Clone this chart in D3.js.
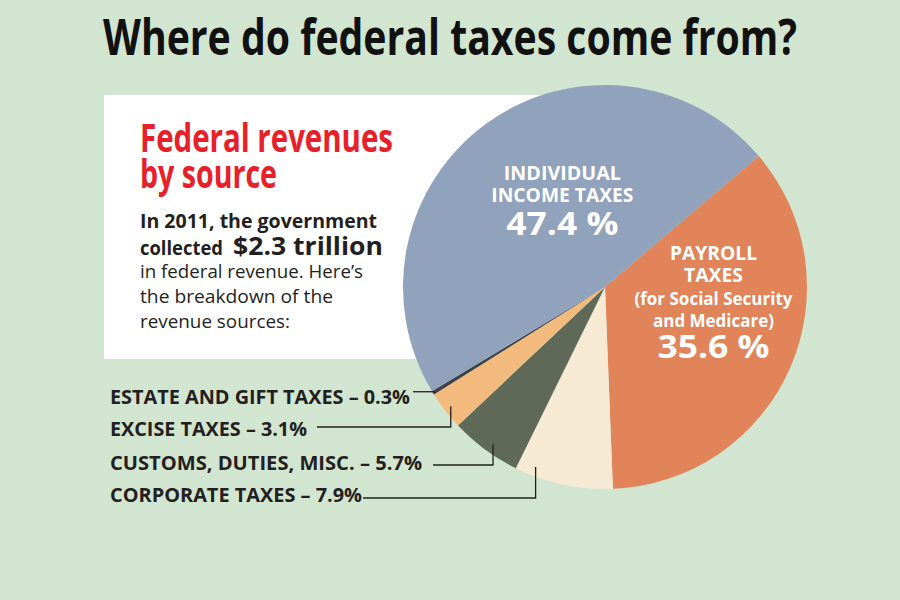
<!doctype html>
<html>
<head>
<meta charset="utf-8"/>
<title>Where do federal taxes come from?</title>
<script src="https://d3js.org/d3.v7.min.js"></script>
<style>
body{margin:0;background:#d2e5d0;}
svg{display:block;}
</style>
</head>
<body>
<script>
// data (2011 federal revenue shares, percent)
var sources = ["Payroll taxes", "Corporate taxes", "Customs, duties, misc.", "Excise taxes", "Estate and gift taxes", "Individual income taxes"];
var shares = [35.6, 7.9, 5.7, 3.1, 0.3, 47.4];
var colors = ["#e1845a", "#f6ead4", "#5e6a57", "#f2bb7d", "#3e414a", "#91a2bc"];
var calloutNames = ["ESTATE AND GIFT TAXES", "EXCISE TAXES", "CUSTOMS, DUTIES, MISC.", "CORPORATE TAXES"];
var calloutIdx = [4, 3, 2, 1];

var W = 900, H = 600;
var cx = 605, cy = 287, R = 202;
var startDeg = 49.6;
var bold = "'Liberation Sans Narrow','Open Sans',sans-serif";
var humanist = "'Open Sans','Noto Sans',sans-serif";

var svg = d3.select("body").append("svg")
  .attr("width", W)
  .attr("height", H);

svg.append("rect")
  .attr("width", W).attr("height", H)
  .attr("fill", "#d2e5d0");

// title
svg.append("text")
  .attr("x", 103).attr("y", 55)
  .attr("font-family", bold)
  .attr("font-weight", "bold")
  .attr("font-size", 50)
  .attr("fill", "#111")
  .attr("textLength", 694)
  .attr("lengthAdjust", "spacingAndGlyphs")
  .text("Where do federal taxes come from?");

// white intro box
svg.append("rect")
  .attr("x", 104).attr("y", 95)
  .attr("width", 500).attr("height", 264)
  .attr("fill", "#fff");

function line(x, y, size, weight, fill, len, txt, fam) {
  svg.append("text")
    .attr("x", x).attr("y", y)
    .attr("font-family", fam || humanist)
    .attr("font-size", size)
    .attr("font-weight", weight)
    .attr("fill", fill)
    .attr("textLength", len)
    .attr("lengthAdjust", "spacingAndGlyphs")
    .text(txt);
}

line(140, 152, 40, "bold", "#e8202a", 253, "Federal revenues", bold);
line(140, 188, 40, "bold", "#e8202a", 137, "by source", bold);
line(140, 228, 19, "bold", "#231f20", 237, "In 2011, the government");
line(140, 255, 19, "bold", "#231f20", 83, "collected");
line(233, 255, 25, "bold", "#231f20", 150, "$2.3 trillion");
line(140, 278, 19, "normal", "#231f20", 223, "in federal revenue. Here\u2019s");
line(140, 303, 19, "normal", "#231f20", 193, "the breakdown of the");
line(140, 328, 19, "normal", "#231f20", 150, "revenue sources:");

// pie
var a0 = startDeg * Math.PI / 180;
var pie = d3.pie().sort(null).value(function(d){ return d; })
  .startAngle(a0).endAngle(a0 + 2 * Math.PI);
var arcs = pie(shares);
var arc = d3.arc().innerRadius(0).outerRadius(R);

var g = svg.append("g").attr("transform", "translate(" + cx + "," + cy + ")");
g.selectAll("path")
  .data(arcs)
  .enter()
  .append("path")
  .attr("d", arc)
  .attr("fill", function(d,i){ return colors[i]; });

// labels inside the big slices
function inner(angleDeg, rad, rows) {
  var p = d3.pointRadial(angleDeg * Math.PI / 180, rad);
  rows.forEach(function(r){
    g.append("text")
      .attr("x", p[0]).attr("y", p[1] + r[0])
      .attr("text-anchor", "middle")
      .attr("font-family", humanist)
      .attr("font-weight", "bold")
      .attr("font-size", r[1])
      .attr("fill", "#fff")
      .attr("textLength", r[2])
      .attr("lengthAdjust", "spacingAndGlyphs")
      .text(r[3]);
  });
}
inner(331, 88, [
  [-30, 20, 117, "INDIVIDUAL"],
  [-8, 20, 142, "INCOME TAXES"],
  [25, 33, 112, shares[5] + " %"]
]);
inner(99.5, 110, [
  [-45, 19, 87, "PAYROLL"],
  [-23, 19, 59, "TAXES"],
  [0, 18, 158, "(for Social Security"],
  [22, 18, 121, "and Medicare)"],
  [53, 33, 112, shares[0] + " %"]
]);

// callouts for the small slices
var baseY = [404, 436, 470, 502];
var leadY = [393, 427, 465, 498];
var lens = [300, 197, 312, 252];
var gaps = [3, 10, 11, 1];
var pos = [0.5, 0.5, 0.45, 0.82];
var rads = [0.99, 0.965, 0.956, 0.955];

calloutIdx.forEach(function(k, i){
  var d = arcs[k];
  var a = d.startAngle + (d.endAngle - d.startAngle) * pos[i];
  var p = d3.pointRadial(a, R * rads[i]);
  var ax = cx + p[0], ay = cy + p[1];
  line(110, baseY[i], 20, "bold", "#231f20", lens[i],
       calloutNames[i] + " \u2013 " + shares[k] + "%");
  var x0 = 110 + lens[i] + gaps[i];
  var pts = i == 0 ? [[x0, ay], [ax, ay]] : [[x0, leadY[i]], [ax, leadY[i]], [ax, ay]];
  svg.append("path")
    .attr("d", d3.line()(pts))
    .attr("fill", "none")
    .attr("stroke", "#231f20")
    .attr("stroke-width", 1.3);
});
</script>
</body>
</html>
